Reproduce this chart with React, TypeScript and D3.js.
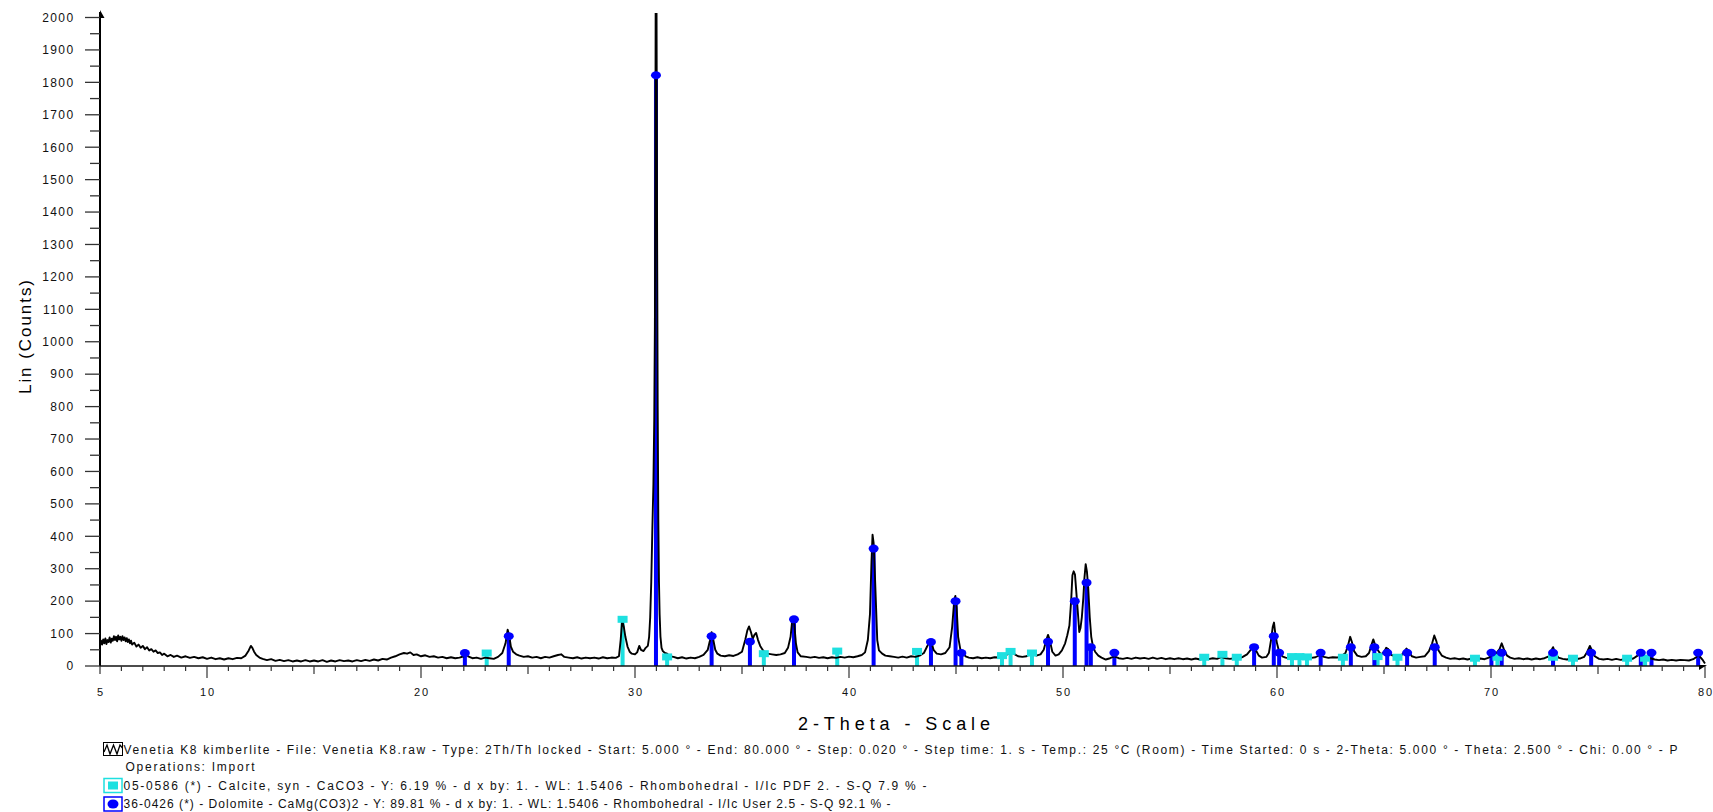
import React, { useEffect, useRef } from 'react';
import * as d3 from 'd3';

// measured scan, [2-theta, counts]
const pattern: [number, number][] = [
  [5.0, 62], [5.05, 78], [5.1, 66], [5.15, 82], [5.2, 70], [5.25, 85], [5.3, 68], [5.35, 80], [5.4, 74], [5.45, 88],
  [5.5, 72], [5.55, 84], [5.6, 78], [5.65, 92], [5.7, 80], [5.75, 90], [5.8, 76], [5.85, 94], [5.9, 82], [5.95, 90],
  [6.0, 78], [6.05, 92], [6.1, 80], [6.15, 88], [6.2, 76], [6.25, 86], [6.3, 74], [6.35, 82], [6.4, 70], [6.45, 78],
  [6.5, 66], [6.6, 72], [6.7, 60], [6.8, 66], [6.9, 56], [7.0, 62], [7.1, 52], [7.2, 58], [7.3, 48], [7.4, 52],
  [7.5, 44], [7.6, 48], [7.7, 40], [7.8, 42], [7.9, 34], [8.0, 38], [8.15, 30], [8.3, 34], [8.45, 28], [8.6, 32],
  [8.8, 26], [9.0, 30], [9.2, 25], [9.4, 28], [9.6, 24], [9.8, 27], [10.0, 22], [10.2, 26], [10.4, 21], [10.6, 24],
  [10.8, 20], [11.0, 24], [11.2, 21], [11.4, 25], [11.6, 24], [11.8, 32], [11.95, 48], [12.05, 62], [12.12, 56], [12.2, 44],
  [12.3, 34], [12.45, 26], [12.6, 22], [12.8, 18], [13.0, 21], [13.2, 16], [13.4, 19], [13.6, 15], [13.8, 18], [14.0, 14],
  [14.2, 17], [14.4, 14], [14.6, 18], [14.8, 14], [15.0, 17], [15.2, 14], [15.4, 18], [15.6, 13], [15.8, 17], [16.0, 14],
  [16.2, 18], [16.4, 15], [16.6, 17], [16.8, 14], [17.0, 18], [17.2, 15], [17.4, 19], [17.6, 16], [17.8, 20], [18.0, 17],
  [18.2, 22], [18.4, 20], [18.6, 26], [18.8, 30], [19.0, 36], [19.2, 40], [19.35, 38], [19.5, 42], [19.65, 34], [19.8, 36],
  [20.0, 30], [20.2, 33], [20.4, 28], [20.6, 30], [20.8, 26], [21.0, 28], [21.2, 24], [21.4, 27], [21.6, 24], [21.8, 26],
  [22.0, 30], [22.1, 40], [22.2, 30], [22.4, 24], [22.6, 26], [22.8, 22], [23.0, 26], [23.2, 24], [23.4, 22], [23.6, 28],
  [23.8, 40], [23.95, 70], [24.05, 112], [24.12, 95], [24.2, 60], [24.3, 44], [24.45, 36], [24.6, 32], [24.8, 28], [25.0, 30],
  [25.2, 26], [25.4, 28], [25.6, 24], [25.8, 28], [26.0, 26], [26.2, 30], [26.4, 34], [26.55, 36], [26.7, 28], [26.9, 26],
  [27.1, 24], [27.3, 27], [27.5, 23], [27.7, 26], [27.9, 24], [28.1, 26], [28.3, 23], [28.5, 27], [28.7, 24], [28.9, 26],
  [29.1, 25], [29.25, 30], [29.33, 80], [29.4, 140], [29.48, 120], [29.55, 90], [29.65, 60], [29.75, 44], [29.85, 38], [30.0, 36],
  [30.1, 42], [30.2, 62], [30.28, 50], [30.4, 46], [30.5, 56], [30.6, 62], [30.66, 90], [30.71, 150], [30.76, 260], [30.81, 420],
  [30.86, 560], [30.9, 760], [30.93, 1050], [30.95, 1500], [30.97, 2200], [31.0, 2200], [31.03, 1400], [31.06, 800], [31.09, 450], [31.12, 260],
  [31.15, 160], [31.19, 90], [31.24, 56], [31.3, 46], [31.4, 40], [31.5, 38], [31.6, 30], [31.8, 28], [32.0, 24], [32.2, 27],
  [32.4, 23], [32.6, 26], [32.8, 24], [33.0, 28], [33.2, 34], [33.4, 50], [33.5, 78], [33.58, 104], [33.66, 80], [33.75, 50],
  [33.85, 38], [34.0, 32], [34.2, 30], [34.4, 33], [34.6, 31], [34.8, 36], [35.0, 44], [35.15, 80], [35.25, 110], [35.33, 122],
  [35.42, 104], [35.5, 84], [35.58, 96], [35.66, 102], [35.75, 80], [35.85, 62], [36.0, 46], [36.2, 38], [36.4, 36], [36.6, 34],
  [36.8, 36], [37.0, 40], [37.15, 56], [37.27, 90], [37.36, 150], [37.44, 130], [37.52, 70], [37.6, 42], [37.75, 30], [38.0, 28],
  [38.2, 26], [38.4, 28], [38.6, 25], [38.8, 27], [39.0, 24], [39.2, 27], [39.4, 25], [39.6, 28], [39.8, 26], [40.0, 29],
  [40.2, 27], [40.4, 30], [40.6, 34], [40.75, 42], [40.88, 80], [40.98, 160], [41.05, 320], [41.1, 405], [41.15, 380], [41.2, 300],
  [41.26, 190], [41.32, 80], [41.4, 48], [41.55, 38], [41.7, 32], [41.9, 30], [42.1, 28], [42.3, 26], [42.5, 29], [42.7, 26],
  [42.9, 30], [43.1, 28], [43.3, 32], [43.5, 40], [43.65, 60], [43.78, 80], [43.86, 72], [43.95, 50], [44.1, 38], [44.3, 36],
  [44.5, 40], [44.7, 58], [44.82, 120], [44.92, 205], [44.97, 216], [45.03, 180], [45.1, 90], [45.2, 52], [45.3, 42], [45.45, 30],
  [45.6, 26], [45.8, 24], [46.0, 27], [46.2, 24], [46.4, 26], [46.6, 24], [46.8, 27], [47.0, 26], [47.2, 30], [47.4, 36],
  [47.6, 44], [47.75, 36], [47.9, 30], [48.1, 28], [48.3, 30], [48.5, 38], [48.6, 40], [48.75, 32], [48.95, 36], [49.1, 50],
  [49.22, 80], [49.3, 96], [49.38, 80], [49.5, 44], [49.65, 32], [49.8, 36], [49.95, 48], [50.1, 70], [50.2, 95], [50.3, 125],
  [50.38, 200], [50.44, 280], [50.5, 292], [50.56, 282], [50.62, 230], [50.7, 160], [50.76, 105], [50.82, 118], [50.88, 150], [50.95, 210],
  [51.0, 270], [51.06, 314], [51.12, 290], [51.18, 240], [51.25, 150], [51.32, 90], [51.4, 60], [51.5, 44], [51.65, 32], [51.8, 26],
  [52.0, 20], [52.2, 24], [52.4, 30], [52.6, 24], [52.8, 22], [53.0, 25], [53.2, 22], [53.4, 26], [53.6, 23], [53.8, 25],
  [54.0, 22], [54.2, 26], [54.4, 22], [54.6, 25], [54.8, 21], [55.0, 24], [55.2, 21], [55.4, 24], [55.6, 21], [55.8, 23],
  [56.0, 20], [56.2, 23], [56.4, 20], [56.6, 24], [56.8, 21], [57.0, 24], [57.2, 22], [57.4, 28], [57.6, 24], [57.8, 22],
  [58.0, 24], [58.2, 22], [58.4, 28], [58.6, 36], [58.8, 52], [58.9, 64], [59.0, 50], [59.15, 32], [59.3, 26], [59.5, 28],
  [59.62, 40], [59.72, 80], [59.8, 120], [59.86, 134], [59.92, 100], [60.0, 70], [60.1, 44], [60.25, 30], [60.4, 26], [60.6, 24],
  [60.8, 27], [61.0, 24], [61.2, 26], [61.4, 28], [61.6, 25], [61.8, 27], [62.0, 34], [62.2, 28], [62.4, 25], [62.6, 27],
  [62.8, 26], [63.0, 30], [63.2, 40], [63.32, 64], [63.42, 90], [63.5, 74], [63.6, 46], [63.75, 32], [63.95, 28], [64.15, 30],
  [64.3, 40], [64.42, 66], [64.5, 82], [64.58, 66], [64.7, 50], [64.85, 36], [65.0, 42], [65.1, 56], [65.2, 52], [65.35, 34],
  [65.55, 30], [65.8, 32], [65.95, 44], [66.05, 54], [66.15, 46], [66.3, 30], [66.5, 26], [66.7, 28], [66.9, 30], [67.1, 46],
  [67.25, 70], [67.35, 94], [67.45, 76], [67.55, 48], [67.7, 32], [67.9, 26], [68.1, 22], [68.3, 24], [68.5, 21], [68.7, 23],
  [68.9, 20], [69.1, 23], [69.3, 21], [69.5, 23], [69.7, 21], [69.9, 26], [70.05, 34], [70.25, 40], [70.4, 52], [70.5, 70],
  [70.6, 52], [70.75, 32], [70.9, 26], [71.1, 22], [71.3, 24], [71.5, 21], [71.7, 23], [71.9, 20], [72.1, 23], [72.3, 21],
  [72.5, 24], [72.7, 30], [72.82, 48], [72.9, 58], [73.0, 40], [73.15, 26], [73.35, 22], [73.55, 20], [73.75, 23], [73.95, 21],
  [74.15, 23], [74.35, 28], [74.5, 44], [74.62, 62], [74.72, 48], [74.85, 30], [75.05, 22], [75.25, 20], [75.45, 22], [75.65, 19],
  [75.85, 22], [76.05, 19], [76.25, 21], [76.45, 20], [76.65, 23], [76.85, 32], [76.98, 42], [77.1, 30], [77.25, 22], [77.45, 24],
  [77.65, 20], [77.85, 18], [78.05, 20], [78.25, 17], [78.45, 19], [78.65, 17], [78.85, 19], [79.05, 18], [79.25, 17], [79.45, 21],
  [79.6, 28], [79.7, 34], [79.8, 26], [79.9, 18], [80.0, 8],
];

// 05-0586 Calcite stick lines, [2-theta, counts]
const calciteLines: [number, number][] = [
  [23.07, 40], [29.42, 144], [31.5, 28], [36.02, 38], [39.45, 46], [43.18, 45], [47.15, 32], [47.55, 45],
  [48.55, 40], [56.6, 27], [57.45, 36], [58.12, 27], [60.7, 29], [61.05, 29], [61.4, 28], [63.08, 27],
  [64.7, 29], [65.63, 27], [69.25, 24], [70.3, 27], [72.9, 27], [73.83, 24], [76.36, 24], [77.2, 24],
];

// 36-0426 Dolomite stick lines, [2-theta, counts]
const dolomiteLines: [number, number][] = [
  [22.05, 40], [24.1, 92], [30.98, 1822], [33.58, 92], [35.37, 75], [37.43, 144], [41.15, 362], [43.83, 74],
  [44.98, 200], [45.25, 40], [49.3, 75], [50.55, 200], [51.1, 257], [51.3, 58], [52.4, 41], [58.93, 58],
  [59.85, 92], [60.1, 41], [62.04, 41], [63.45, 58], [64.55, 58], [65.15, 41], [66.08, 41], [67.37, 58],
  [70.02, 41], [70.5, 41], [72.9, 41], [74.68, 41], [77.0, 41], [77.5, 41], [79.68, 41],
];

const xTickLabels = [5, 10, 20, 30, 40, 50, 60, 70, 80];
const yTickLabels = [0, 100, 200, 300, 400, 500, 600, 700, 800, 900, 1000,
  1100, 1200, 1300, 1400, 1500, 1600, 1700, 1800, 1900, 2000];

const legendTexts = [
  'Venetia K8 kimberlite - File: Venetia K8.raw - Type: 2Th/Th locked - Start: 5.000 ° - End: 80.000 ° - Step: 0.020 ° - Step time: 1. s - Temp.: 25 °C (Room) - Time Started: 0 s - 2-Theta: 5.000 ° - Theta: 2.500 ° - Chi: 0.00 ° - P',
  'Operations: Import',
  '05-0586 (*) - Calcite, syn - CaCO3 - Y: 6.19 % - d x by: 1. - WL: 1.5406 - Rhombohedral - I/Ic PDF 2. - S-Q 7.9 % -',
  '36-0426 (*) - Dolomite - CaMg(CO3)2 - Y: 89.81 % - d x by: 1. - WL: 1.5406 - Rhombohedral - I/Ic User 2.5 - S-Q 92.1 % -',
];

const FONT = "'Liberation Sans', Arial, sans-serif";
const CYAN = '#1ee0e0';
const BLUE = '#0000ff';

const XrdChart = () => {
  const svgRef = useRef<SVGSVGElement>(null);

  useEffect(() => {
    const svg = d3.select(svgRef.current);
    svg.selectAll('*').remove();

    const x = d3.scaleLinear().domain([5, 80]).range([100, 1705]);
    const y = d3.scaleLinear().domain([0, 2000]).range([666, 17.5]);

    svg.append('defs').append('clipPath').attr('id', 'plotClip')
      .append('rect').attr('x', 95).attr('y', 13).attr('width', 1615).attr('height', 660);

    // sticks under the trace
    const sticks = svg.append('g');
    sticks.selectAll('.cal')
      .data(calciteLines)
      .enter().append('rect')
      .attr('x', d => x(d[0]) - 2)
      .attr('y', d => y(d[1]))
      .attr('width', 4)
      .attr('height', d => y(0) - y(d[1]))
      .attr('fill', CYAN);
    sticks.selectAll('.dol')
      .data(dolomiteLines)
      .enter().append('rect')
      .attr('x', d => x(d[0]) - 2)
      .attr('y', d => y(d[1]))
      .attr('width', 4)
      .attr('height', d => y(0) - y(d[1]))
      .attr('fill', BLUE);

    // scan trace
    const line = d3.line<[number, number]>()
      .x(d => x(d[0]))
      .y(d => y(d[1]));
    svg.append('path')
      .datum(pattern)
      .attr('d', line)
      .attr('clip-path', 'url(#plotClip)')
      .attr('fill', 'none')
      .attr('stroke', '#000')
      .attr('stroke-width', 1.9)
      .attr('stroke-linejoin', 'round');

    // markers on top
    svg.append('g').selectAll('rect')
      .data(calciteLines)
      .enter().append('rect')
      .attr('x', d => x(d[0]) - 5)
      .attr('y', d => y(d[1]) - 3.5)
      .attr('width', 10)
      .attr('height', 7)
      .attr('fill', CYAN);
    svg.append('g').selectAll('ellipse')
      .data(dolomiteLines)
      .enter().append('ellipse')
      .attr('cx', d => x(d[0]))
      .attr('cy', d => y(d[1]))
      .attr('rx', 5)
      .attr('ry', 4)
      .attr('fill', BLUE);

    // Y axis
    const yAxis = svg.append('g');
    yAxis.append('line')
      .attr('x1', 100).attr('x2', 100).attr('y1', 666).attr('y2', 12)
      .attr('stroke', '#000').attr('stroke-width', 2);
    yAxis.append('path')
      .attr('d', 'M100,10 L104.5,18 L100,18 Z')
      .attr('fill', '#000');
    yAxis.selectAll('.tk')
      .data(d3.range(0, 2001, 50))
      .enter().append('line')
      .attr('x1', d => (d % 100 === 0 ? 85 : 90))
      .attr('x2', 100)
      .attr('y1', d => y(d))
      .attr('y2', d => y(d))
      .attr('stroke', '#333')
      .attr('stroke-width', 1.3);
    yAxis.selectAll('text')
      .data(yTickLabels)
      .enter().append('text')
      .attr('x', 74.5)
      .attr('y', d => y(d) + 4.3)
      .attr('text-anchor', 'end')
      .style('font-family', FONT)
      .style('font-size', '12px')
      .style('letter-spacing', '1.4px')
      .attr('fill', '#111')
      .text(d => d);

    // X axis
    const xAxis = svg.append('g');
    xAxis.append('line')
      .attr('x1', 100).attr('x2', 1705).attr('y1', 666).attr('y2', 666)
      .attr('stroke', '#111').attr('stroke-width', 1.5);
    xAxis.append('path')
      .attr('d', 'M1699,665 L1707,665 L1699,670 Z')
      .attr('fill', '#000');
    xAxis.selectAll('.tk')
      .data(d3.range(5, 81, 1))
      .enter().append('line')
      .attr('x1', d => x(d))
      .attr('x2', d => x(d))
      .attr('y1', 666)
      .attr('y2', d => 666 + (d % 10 === 0 ? 12 : d % 5 === 0 ? 8 : 5))
      .attr('stroke', '#333')
      .attr('stroke-width', 1.2);
    xAxis.selectAll('text')
      .data(xTickLabels)
      .enter().append('text')
      .attr('x', d => x(d) + 1)
      .attr('y', 696)
      .attr('text-anchor', 'middle')
      .style('font-family', FONT)
      .style('font-size', '11px')
      .style('letter-spacing', '2px')
      .attr('fill', '#111')
      .text(d => d);

    // axis titles
    svg.append('text')
      .attr('x', 894).attr('y', 730)
      .attr('text-anchor', 'middle')
      .attr('textLength', 192)
      .attr('lengthAdjust', 'spacing')
      .style('font-family', FONT)
      .style('font-size', '18px')
      .attr('fill', '#000')
      .text('2-Theta - Scale');
    svg.append('text')
      .attr('transform', 'translate(31,337) rotate(-90)')
      .attr('text-anchor', 'middle')
      .attr('textLength', 114)
      .attr('lengthAdjust', 'spacing')
      .style('font-family', FONT)
      .style('font-size', '17px')
      .attr('fill', '#000')
      .text('Lin (Counts)');

    // legend
    const lg = svg.append('g');
    const rowY = [749.5, 767, 785.5, 804];
    const rowX = [123.5, 125.5, 123.5, 123.5];
    const rowW = [1554, 129, 803, 767];
    legendTexts.forEach((t, i) => {
      lg.append('text')
        .attr('x', rowX[i])
        .attr('y', rowY[i] + 4.3)
        .attr('textLength', rowW[i])
        .attr('lengthAdjust', 'spacing')
        .style('font-family', FONT)
        .style('font-size', '12px')
        .attr('fill', '#111')
        .text(t);
    });
    // icon: scan
    lg.append('rect')
      .attr('x', 103.5).attr('y', 742.5).attr('width', 19).attr('height', 13)
      .attr('fill', 'none').attr('stroke', '#000').attr('stroke-width', 1);
    lg.append('path')
      .attr('d', 'M104,752 L107,745 L110,754 L113.5,745 L117,754 L120,745 L122.5,748')
      .attr('fill', 'none').attr('stroke', '#000').attr('stroke-width', 1.3);
    // icon: calcite
    lg.append('rect')
      .attr('x', 104).attr('y', 778.5).attr('width', 18).attr('height', 14)
      .attr('fill', 'none').attr('stroke', CYAN).attr('stroke-width', 1.5);
    lg.append('rect')
      .attr('x', 108).attr('y', 781.5).attr('width', 10).attr('height', 8)
      .attr('fill', CYAN);
    // icon: dolomite
    lg.append('rect')
      .attr('x', 104).attr('y', 797).attr('width', 18).attr('height', 14)
      .attr('fill', 'none').attr('stroke', BLUE).attr('stroke-width', 1.5);
    lg.append('ellipse')
      .attr('cx', 113).attr('cy', 804).attr('rx', 5.5).attr('ry', 4.5)
      .attr('fill', BLUE);
  }, []);

  return (
    <svg
      ref={svgRef}
      width={1713}
      height={812}
      style={{ position: 'absolute', left: 0, top: 0, display: 'block', background: '#fff' }}
    />
  );
};

export default function App() {
  return <XrdChart />;
}
